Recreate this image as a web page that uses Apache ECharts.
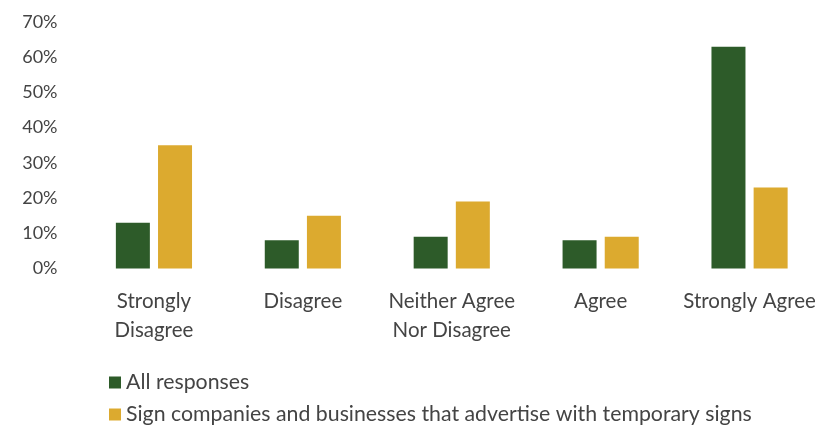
<!DOCTYPE html>
<html>
<head>
<meta charset="utf-8">
<script src="https://cdn.jsdelivr.net/npm/echarts@6/dist/echarts.min.js"></script>
<style>
  html, body { margin: 0; padding: 0; background: #ffffff; }
  #chart { width: 838px; height: 435px; }
</style>
</head>
<body>
<div id="chart"></div>
<script>
// Survey answers and the share of respondents choosing each one (%)
const categories = ['Strongly\nDisagree', 'Disagree', 'Neither Agree\nNor Disagree', 'Agree', 'Strongly Agree'];
const seriesNames = ['All responses', 'Sign companies and businesses that advertise with temporary signs'];
const allResponses = [13, 8, 9, 8, 63];
const signCompanies = [35, 15, 19, 9, 23];
const yTicks = [0, 10, 20, 30, 40, 50, 60, 70];

const FONT = 'Lato';
const TEXT = '#444444';

// one legend row per series, stacked under the chart
const legendRow = (name, top) => ({
  left: 104,
  top: top,
  itemWidth: 12,
  itemHeight: 12,
  icon: 'rect',
  textStyle: { fontFamily: FONT, fontSize: 21.3, color: TEXT, padding: [0, 0, 0, 0] },
  data: [name]
});

const chart = echarts.init(document.getElementById('chart'), null, { renderer: 'canvas' });
chart.setOption({
  backgroundColor: '#ffffff',
  animation: false,
  textStyle: { fontFamily: FONT },
  grid: { left: 79.5, right: 14, top: 22, bottom: 166.5, containLabel: false },
  legend: [
    legendRow(seriesNames[0], 367),
    legendRow(seriesNames[1], 399)
  ],
  xAxis: {
    type: 'category',
    data: categories,
    axisLine: { show: false },
    axisTick: { show: false },
    axisLabel: {
      interval: 0,
      margin: 18,
      fontFamily: FONT,
      fontSize: 20.5,
      lineHeight: 29,
      color: TEXT,
      align: 'center',
      verticalAlign: 'top'
    }
  },
  yAxis: {
    type: 'value',
    min: yTicks[0],
    max: yTicks[yTicks.length - 1],
    interval: 10,
    splitLine: { show: false },
    axisLine: { show: false },
    axisTick: { show: false },
    axisLabel: {
      margin: 22,
      fontFamily: FONT,
      fontSize: 18,
      color: TEXT,
      formatter: v => v + '%'
    }
  },
  series: [
    {
      name: seriesNames[0],
      type: 'bar',
      data: allResponses,
      barWidth: 34,
      barGap: '24%',
      itemStyle: { color: '#2d5b29' }
    },
    {
      name: seriesNames[1],
      type: 'bar',
      data: signCompanies,
      barWidth: 34,
      itemStyle: { color: '#dcaa2f' }
    }
  ]
});
</script>
</body>
</html>
